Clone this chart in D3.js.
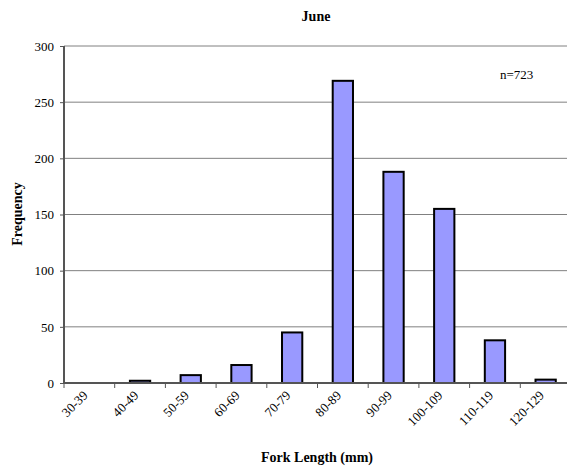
<!DOCTYPE html>
<html><head><meta charset="utf-8">
<script src="https://cdn.jsdelivr.net/npm/d3@7"></script>
<style>body{margin:0;background:#fff;}svg{display:block;font-family:"Liberation Serif","Times New Roman",serif;}</style>
</head><body>
<svg id="c" width="567" height="470"></svg>
<script>
const categories = ["30-39","40-49","50-59","60-69","70-79","80-89","90-99","100-109","110-119","120-129"];
const frequency = [0,2,7,16,45,269,188,155,38,3];
const yTicks = [0,50,100,150,200,250,300];
const title = "June";
const note = "n=723";

const svg = d3.select("#c");
const L = 64, R = 571, T = 46, B = 383;
const x = d3.scaleBand().domain(categories).range([L, R]);
const y = d3.scaleLinear().domain([0, 300]).range([B, T]);

// gridlines
svg.append("g").selectAll("line").data(yTicks.filter(d => d > 0)).join("line")
  .attr("x1", L).attr("x2", R).attr("y1", d => y(d)).attr("y2", d => y(d))
  .attr("stroke", "#808080").attr("stroke-width", 1);

// bars
const bw = x.bandwidth() * 0.4;
svg.append("g").selectAll("rect").data(categories).join("rect")
  .attr("x", (d) => x(d) + x.bandwidth() / 2 - bw / 2)
  .attr("width", bw)
  .attr("y", (d, i) => y(frequency[i]))
  .attr("height", (d, i) => B - y(frequency[i]))
  .attr("fill", "#9999ff")
  .attr("stroke", "#000").attr("stroke-width", 2)
  .attr("display", (d, i) => frequency[i] > 0 ? null : "none");

// y axis
const ya = d3.axisLeft(y).tickValues(yTicks).tickSize(4).tickPadding(6);
const gy = svg.append("g").attr("transform", `translate(${L},0)`).call(ya);
gy.select(".domain").attr("stroke", "#555").attr("stroke-width", 2).attr("d", `M0,${T}V${B}`);
gy.selectAll(".tick line").attr("stroke", "#555");
gy.selectAll("text").attr("font-size", 13).attr("font-family", "Liberation Serif").attr("fill", "#000");

// x axis
const bounds = categories.map(c => x(c));
svg.append("line").attr("x1", L).attr("x2", R).attr("y1", B).attr("y2", B).attr("stroke", "#555").attr("stroke-width", 2);
svg.append("g").selectAll("line").data(bounds).join("line")
  .attr("x1", d => d).attr("x2", d => d).attr("y1", B).attr("y2", B + 5)
  .attr("stroke", "#555").attr("stroke-width", 1);
svg.append("g").selectAll("text").data(categories).join("text")
  .attr("transform", d => `translate(${x(d) + x.bandwidth() / 2 - 4},${B + 10}) rotate(-45)`)
  .attr("text-anchor", "end").attr("dy", "0.35em")
  .attr("font-size", 13).text(d => d);

// titles
svg.append("text").attr("x", 316).attr("y", 21).attr("text-anchor", "middle")
  .attr("font-weight", "bold").attr("font-size", 14).text(title);
svg.append("text").attr("x", 317).attr("y", 462).attr("text-anchor", "middle")
  .attr("font-weight", "bold").attr("font-size", 14).text("Fork Length (mm)");
svg.append("text").attr("transform", `translate(22,214) rotate(-90)`).attr("text-anchor", "middle")
  .attr("font-weight", "bold").attr("font-size", 14).text("Frequency");
svg.append("text").attr("x", 500).attr("y", 79).attr("font-size", 13).text(note);
</script>
</body></html>
